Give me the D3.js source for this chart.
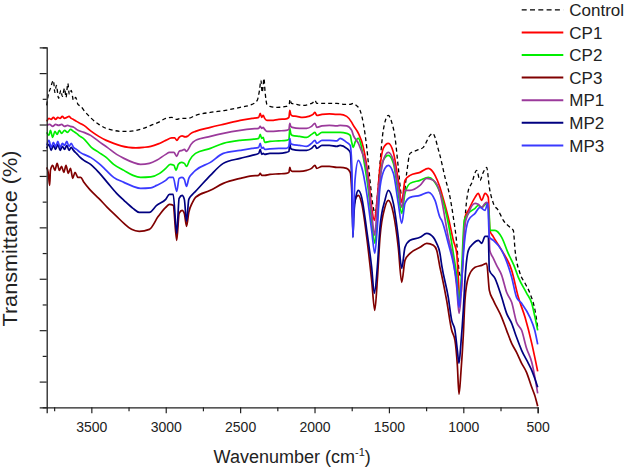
<!DOCTYPE html>
<html><head><meta charset="utf-8">
<script src="https://cdn.jsdelivr.net/npm/d3@7/dist/d3.min.js"></script>
<style>body{margin:0;background:#fff}svg{display:block}</style>
</head><body>
<svg id="chart" width="629" height="468"></svg>
<script>
// ---- data: [wavenumber (cm^-1), transmittance (a.u.)] ----
const control = [[3800,302],[3790,312],[3775,319],[3755,327],[3745,315],[3735,322],[3720,309],[3705,317],[3695,311],[3680,319],[3670,310],[3658,324],[3648,313],[3635,317],[3620,307],[3605,310],[3590,303],[3570,301],[3550,297],[3520,292],[3500,289],[3450,283],[3400,279],[3350,277],[3300,276],[3250,276],[3200,277],[3150,279],[3100,282],[3050,285],[3000,289],[2960,290],[2925,288],[2900,289],[2850,289],[2800,292],[2700,295],[2600,297],[2500,300],[2420,303],[2385,307],[2370,317],[2360,327],[2352,315],[2345,322],[2340,329],[2332,315],[2320,303],[2300,301],[2250,300],[2190,301],[2170,303],[2165,308],[2155,304],[2120,303],[2080,302],[2040,303],[2010,305],[1997,307],[1985,304],[1950,304],[1900,304],[1850,304],[1800,303],[1760,303],[1740,304],[1720,302],[1694,297],[1672,284],[1649,260],[1627,227],[1605,200],[1593,194],[1578,210],[1560,244],[1538,277],[1504,292],[1481,285],[1459,270],[1437,240],[1414,212],[1400,212],[1380,235],[1358,254],[1313,257],[1269,260],[1224,272],[1205,274],[1190,270],[1170,259],[1157,252],[1123,230],[1089,210],[1067,190],[1044,164],[1029,137],[1016,130],[1000,157],[984,197],[966,217],[944,224],[910,237],[888,227],[866,235],[843,240],[825,220],[798,204],[765,197],[731,187],[686,180],[664,177],[652,157],[619,134],[585,124],[552,114],[518,97],[500,80]];

const cp1 = [[3800,286],[3785,289],[3770,288],[3755,290],[3740,288],[3725,290],[3710,289],[3695,291],[3680,289],[3665,290],[3650,291],[3635,289],[3620,288],[3600,286],[3575,284],[3550,282],[3500,276],[3450,271],[3400,267],[3350,264],[3300,261.5],[3250,260],[3200,259.5],[3150,260],[3100,261],[3050,263.5],[3000,267],[2960,269.5],[2940,269.5],[2925,267],[2910,270],[2890,271.5],[2870,270.5],[2855,271],[2830,274],[2800,276],[2700,280],[2600,283.5],[2500,287],[2420,289],[2375,290],[2365,294],[2355,290],[2345,292],[2335,289],[2320,287],[2290,287],[2240,288],[2190,288.5],[2172,290],[2166,297],[2160,293],[2150,291.5],[2120,291],[2080,290],[2040,291],[2010,293],[1997,295],[1985,292],[1950,293],[1900,293.5],[1850,293],[1828,293],[1784,291],[1750,285],[1739,282],[1705,274],[1672,260],[1638,230],[1616,200],[1598,187],[1578,210],[1560,240],[1538,259],[1504,264],[1470,255],[1437,227],[1414,205],[1392,227],[1358,232],[1291,235],[1235,239],[1190,232],[1157,220],[1145,214],[1101,190],[1067,167],[1044,154],[1034,130],[1025,111],[1015,114],[1005,142],[989,190],[966,197],[921,210],[900,214],[876,207],[854,214],[832,210],[822,177],[800,171],[742,157],[675,137],[630,110],[585,90],[540,64],[500,36]];

const cp2 = [[3800,275],[3785,272],[3775,277],[3760,270],[3745,276],[3730,273],[3715,277],[3700,274],[3680,277],[3660,275],[3640,278],[3620,276],[3600,274],[3575,271],[3554,269],[3500,260],[3450,255],[3400,250],[3350,243],[3281,237],[3220,232],[3169,230],[3100,230.5],[3041,234],[3000,239],[2970,243],[2945,242],[2931,237],[2915,243],[2895,245],[2875,244],[2860,241],[2840,247],[2800,254],[2700,259],[2613,264],[2500,267],[2420,268],[2375,269],[2365,273],[2355,269],[2345,270],[2335,265],[2300,266],[2240,266.5],[2190,267],[2172,268],[2166,279],[2160,274],[2150,272],[2100,271],[2053,270],[2020,273],[1997,275],[1985,272],[1950,275],[1900,275],[1850,275],[1828,275],[1784,274],[1760,272],[1750,265],[1739,260],[1728,265],[1705,269],[1690,264],[1672,250],[1638,217],[1616,187],[1595,164],[1578,187],[1560,227],[1538,247],[1504,252],[1470,244],[1437,214],[1414,194],[1392,214],[1358,224],[1291,227],[1235,230],[1201,227],[1157,215],[1145,210],[1101,184],[1067,154],[1044,130],[1029,104],[1016,124],[993,187],[966,194],[921,199],[899,202],[876,200],[843,204],[828,197],[820,177],[787,177],[742,170],[698,154],[660,142],[630,130],[574,114],[540,104],[518,90],[500,77]];

const cp3 = [[3800,240],[3790,235],[3780,222],[3775,237],[3760,242],[3745,237],[3730,244],[3715,237],[3700,241],[3685,235],[3670,242],[3655,234],[3640,239],[3625,229],[3610,235],[3590,230],[3572,230],[3550,225],[3505,217],[3450,209],[3393,200],[3330,191],[3281,184],[3230,178],[3178,176],[3110,178],[3050,191],[3000,200],[2975,203],[2950,202],[2926,167],[2910,194],[2890,197],[2875,194],[2860,181],[2845,195],[2820,205],[2800,210],[2700,217],[2613,224],[2500,229],[2420,231.5],[2375,232],[2365,234],[2355,232],[2345,232],[2335,232],[2300,233],[2240,233.5],[2190,234],[2172,235],[2166,240],[2160,237],[2150,236],[2100,236],[2053,237],[2020,239],[1997,242],[1985,239],[1950,241],[1900,241],[1850,240],[1828,240],[1784,239],[1760,235],[1750,217],[1742,185],[1735,202],[1720,210],[1705,212],[1683,204],[1649,170],[1616,127],[1595,97],[1578,127],[1560,170],[1527,200],[1504,207],[1470,194],[1437,160],[1414,125],[1392,147],[1358,154],[1291,160],[1246,164],[1201,162],[1179,157],[1157,140],[1145,132],[1112,107],[1078,77],[1056,67],[1040,42],[1029,13],[1016,35],[1000,72],[989,107],[966,130],[921,140],[876,142],[843,144],[825,117],[798,107],[742,90],[709,77],[675,64],[642,55],[608,44],[575,35],[540,20],[520,12],[500,1]];

const mp1 = [[3800,282],[3780,283],[3760,281],[3740,283],[3720,282],[3700,283],[3680,281],[3660,282],[3640,281],[3617,280],[3600,278],[3550,275],[3505,272],[3450,266],[3393,260],[3330,253],[3281,249],[3220,245],[3169,243],[3110,244],[3061,247],[3000,253],[2975,255],[2945,255],[2926,251],[2910,256],[2890,257],[2875,258],[2860,256],[2845,259],[2830,263],[2800,267],[2700,271],[2613,274],[2500,277],[2420,278.5],[2375,279],[2365,281],[2355,279],[2345,280],[2335,278],[2320,276],[2290,276],[2240,276.5],[2190,277],[2172,278],[2166,284],[2160,281],[2150,280],[2100,279],[2053,279],[2020,281],[1997,284],[1985,280],[1950,281.5],[1900,282],[1850,281.5],[1828,282],[1784,281.5],[1750,277],[1739,272],[1705,264],[1694,260],[1649,237],[1616,194],[1595,172],[1575,212],[1560,229],[1538,247],[1504,255],[1470,247],[1437,220],[1414,200],[1392,217],[1358,217],[1291,222],[1246,229],[1201,227],[1157,215],[1145,207],[1101,170],[1067,147],[1044,120],[1029,94],[1016,110],[1005,142],[990,182],[966,194],[921,204],[900,203],[876,200],[854,204],[843,205],[832,202],[822,157],[798,149],[776,142],[742,132],[709,115],[675,105],[642,85],[608,77],[575,59],[540,45],[520,31],[500,14]];

const mp2 = [[3800,259],[3785,263],[3770,257],[3755,262],[3740,258],[3725,263],[3710,257],[3695,261],[3680,258],[3665,262],[3650,257],[3635,260],[3620,257],[3600,254],[3575,250],[3550,247],[3505,243],[3450,235],[3393,225],[3330,214],[3281,207],[3220,199],[3178,195],[3110,195],[3061,202],[3000,208],[2975,213],[2950,213],[2926,174],[2910,209],[2890,212],[2875,208],[2860,186],[2845,208],[2820,213],[2800,216],[2700,232],[2613,244],[2500,249],[2420,252],[2375,254],[2365,258],[2355,253],[2345,254],[2335,253],[2300,254],[2240,254],[2190,255],[2172,256],[2166,264],[2160,259],[2150,258],[2100,257],[2053,257],[2020,259],[1997,262],[1985,259],[1950,262],[1900,262],[1850,261],[1828,262],[1784,259],[1760,255],[1750,227],[1742,170],[1735,194],[1720,212],[1705,217],[1683,210],[1649,177],[1616,140],[1598,114],[1578,140],[1560,180],[1527,207],[1504,217],[1470,204],[1437,170],[1414,139],[1392,160],[1358,167],[1291,170],[1246,174],[1201,170],[1179,164],[1157,154],[1145,142],[1101,110],[1078,87],[1056,77],[1040,57],[1029,44],[1016,64],[1000,97],[989,127],[966,157],[932,164],[899,167],[876,164],[854,171],[832,171],[825,137],[787,129],[742,110],[709,94],[675,84],[642,70],[608,57],[563,44],[540,37],[520,29],[500,20]];

const mp3 = [[3800,262],[3785,267],[3770,260],[3755,265],[3740,261],[3725,266],[3710,260],[3695,264],[3680,262],[3665,266],[3650,261],[3635,264],[3620,260],[3600,258],[3575,255],[3550,253],[3505,250],[3450,244],[3400,237],[3350,230],[3281,225],[3220,221],[3169,219],[3100,219.5],[3061,222],[3000,227],[2975,230],[2950,230],[2926,216],[2910,229],[2890,230],[2875,228],[2860,221],[2845,229],[2820,234],[2800,237],[2700,245],[2613,254],[2500,257],[2420,259],[2375,260],[2365,264],[2355,259],[2345,260],[2335,258],[2300,258.5],[2240,259],[2190,259],[2172,261],[2166,269],[2160,264],[2150,263],[2100,262],[2053,261],[2020,264],[1997,267],[1985,264],[1950,267],[1900,267],[1850,266.5],[1828,269],[1784,265],[1760,262],[1750,244],[1742,170],[1735,202],[1728,227],[1705,247],[1683,240],[1649,214],[1616,177],[1595,154],[1578,180],[1560,220],[1527,239],[1504,242],[1470,234],[1437,204],[1414,184],[1392,204],[1358,210],[1291,212],[1235,215],[1190,207],[1157,190],[1145,187],[1101,164],[1067,144],[1044,124],[1029,100],[1016,117],[993,164],[966,187],[921,194],[888,200],[854,197],[836,204],[825,170],[798,167],[742,157],[675,130],[642,110],[608,104],[552,90],[520,77],[500,63]];

const seriesNames = ["Control", "CP1", "CP2", "CP3", "MP1", "MP2", "MP3"];
const seriesData = [control, cp1, cp2, cp3, mp1, mp2, mp3];
const seriesColors = ["#000000", "#ff0000", "#00ee00", "#800000", "#9b3a9b", "#000080", "#3a3aff"];

const xDomain = [3800, 500];
const xMajorTicks = [3500, 3000, 2500, 2000, 1500, 1000, 500];
const xMinorTicks = [3750, 3250, 2750, 2250, 1750, 1250, 750];
const yDomain = [0, 360];
const yTickCount = 14;

// ---- layout ----
const plot = {left: 46.7, right: 537.7, top: 47.4, bottom: 407.3};
const svg = d3.select("#chart");
const FONT = "'Liberation Sans', Arial, Helvetica, sans-serif";

const x = d3.scaleLinear().domain(xDomain).range([plot.left, plot.right]);
const y = d3.scaleLinear().domain(yDomain).range([plot.bottom, plot.top]);

const yTicks = d3.range(0, yTickCount + 1).map(i => i * (yDomain[1] - yDomain[0]) / yTickCount);
const yMajor = yTicks.filter((d, i) => i % 2 === 1);
const yMinor = yTicks.filter((d, i) => i % 2 === 0);

// lines
const line = d3.line().x(d => x(d[0])).y(d => y(d[1])).curve(d3.curveMonotoneX);
const gLines = svg.append("g");
seriesData.forEach((data, i) => {
  gLines.append("path")
    .attr("d", line(data))
    .attr("fill", "none")
    .attr("stroke", seriesColors[i])
    .attr("stroke-width", i === 0 ? 1.3 : 1.7)
    .attr("stroke-linejoin", "round")
    .attr("stroke-dasharray", i === 0 ? "4,3" : null);
});

// axes
const axisColor = "#222";
function styleAxis(g) {
  g.select(".domain").attr("stroke", axisColor).attr("stroke-width", 1.3);
  g.selectAll(".tick line").attr("stroke", axisColor).attr("stroke-width", 1.2);
  g.selectAll("text").attr("fill", "#222").attr("font-family", FONT).attr("font-size", 14);
}
const gxMinor = svg.append("g").attr("transform", `translate(0,${plot.bottom})`)
  .call(d3.axisBottom(x).tickValues(xMinorTicks).tickSize(4).tickFormat(""));
styleAxis(gxMinor);
const gx = svg.append("g").attr("transform", `translate(0,${plot.bottom})`)
  .call(d3.axisBottom(x).tickValues(xMajorTicks).tickSize(6).tickPadding(8.5).tickFormat(d3.format("d")));
styleAxis(gx);

const gyMinor = svg.append("g").attr("transform", `translate(${plot.left},0)`)
  .call(d3.axisLeft(y).tickValues(yMinor).tickSize(4).tickFormat(""));
styleAxis(gyMinor);
const gy = svg.append("g").attr("transform", `translate(${plot.left},0)`)
  .call(d3.axisLeft(y).tickValues(yMajor).tickSize(7).tickFormat(""));
styleAxis(gy);
[gxMinor, gyMinor].forEach(g => g.select(".domain").remove());

// axis titles
const xt = svg.append("text")
  .attr("x", (plot.left + plot.right) / 2).attr("y", 462.7)
  .attr("text-anchor", "middle").attr("font-family", FONT).attr("font-size", 18).attr("fill", "#222");
xt.append("tspan").text("Wavenumber (cm");
xt.append("tspan").attr("font-size", 11).attr("dy", -7).text("-1");
xt.append("tspan").attr("dy", 7).text(")");

svg.append("text")
  .attr("transform", "translate(16.7,238.5) rotate(-90)")
  .attr("text-anchor", "middle").attr("font-family", FONT).attr("font-size", 20).attr("fill", "#222")
  .attr("textLength", 176).attr("lengthAdjust", "spacingAndGlyphs")
  .text("Transmittance (%)");

// legend
const legend = svg.append("g");
seriesNames.forEach((name, i) => {
  const ly = 9.8 + i * 22.6;
  legend.append("line")
    .attr("x1", 521.7).attr("x2", 563.3).attr("y1", ly).attr("y2", ly)
    .attr("stroke", seriesColors[i])
    .attr("stroke-width", i === 0 ? 1.3 : 2)
    .attr("stroke-dasharray", i === 0 ? "5,3.3" : null);
  legend.append("text")
    .attr("x", 569.3).attr("y", ly).attr("dy", "0.36em")
    .attr("font-family", FONT).attr("font-size", 17).attr("fill", "#222")
    .text(name);
});
</script>
</body></html>
